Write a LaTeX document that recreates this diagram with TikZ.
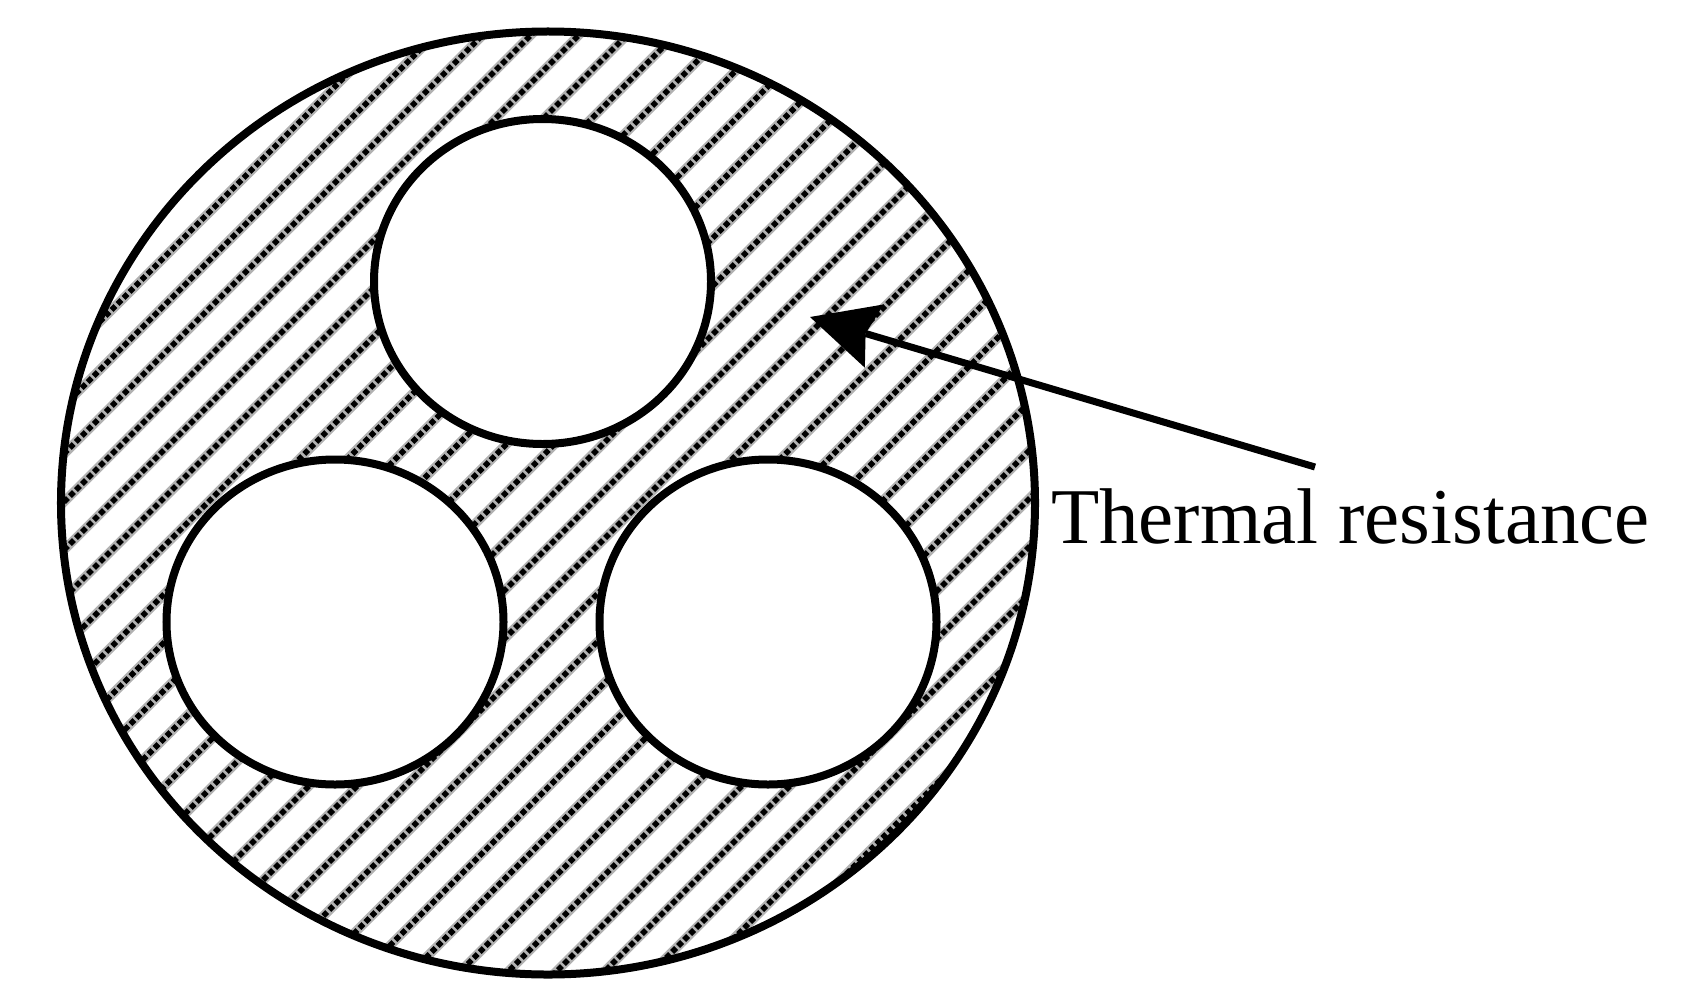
\documentclass[tikz,border=0pt]{standalone}
\usepackage{fontspec}
\setmainfont{Liberation Serif}
\usetikzlibrary{shapes.geometric,arrows.meta}
\tikzset{
  rim/.style={shape=ellipse,draw=black,line width=8bp,inner sep=0pt,outer sep=0pt},
  hole/.style={rim,fill=white,minimum width=337bp,minimum height=325bp},
  hatchhalo/.style={line width=9.5bp,draw=black!30},
  hatchcore/.style={line width=5.5bp,draw=black,dash pattern=on 5.6bp off 2.885bp},
  pointer/.style={line width=7bp,-{Stealth[length=67bp,width=66bp,inset=9bp,line width=0pt]}},
  caption/.style={font=\fontsize{79bp}{79bp}\selectfont,inner sep=0pt,outer sep=0pt,anchor=base west}
}
\begin{document}
\begin{tikzpicture}[x=1bp,y=-1bp]
\useasboundingbox (0,0) rectangle (1685,1000);
\fill[white] (0,0) rectangle (1685,1000);
\begin{scope}
  \clip (548,503) ellipse [x radius=487,y radius=471];
  \foreach \k in {-14,...,18} {
    \pgfmathsetmacro{\s}{1095+48.1*\k}
    \draw[hatchhalo] ({\s-1000},1000) -- ({\s},0);
    \draw[hatchcore] ({\s-1000},1000) -- ({\s},0);
  }
\end{scope}
\node[rim,minimum width=974bp,minimum height=943bp] (outer) at (548,503) {};
\node[hole] (top) at (542.5,281.5) {};
\node[hole] (left) at (335,622) {};
\node[hole] (right) at (768,622) {};
\node[caption] (label) at (1051,543.5) {Thermal resistance};
\coordinate (tail) at (1315,467);
\coordinate (tip) at (810,317);
\draw[pointer] (tail) -- (tip);
\end{tikzpicture}
\end{document}
